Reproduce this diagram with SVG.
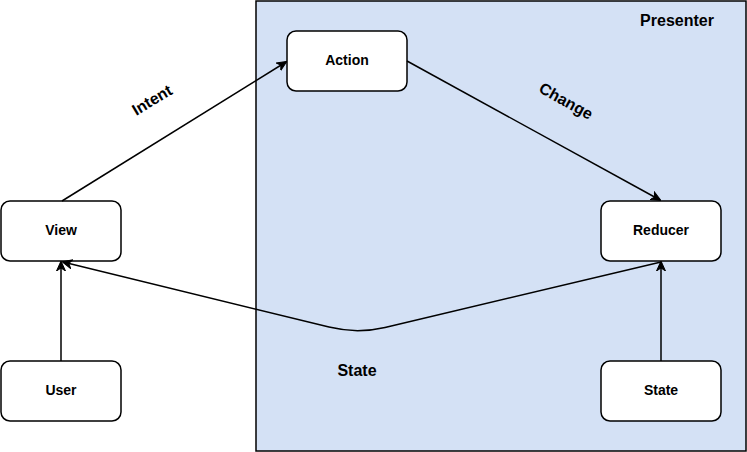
<svg xmlns="http://www.w3.org/2000/svg" width="747" height="452" viewBox="0 0 747 452">
<style>
.node rect{fill:#fff;stroke:#000;stroke-width:1.5}
text{font-family:"Liberation Sans",Arial,Helvetica,sans-serif;font-size:16px;font-weight:bold;fill:#000}
.node text{font-size:14px}
.c{text-anchor:middle;dominant-baseline:central}
.edge{fill:none;stroke:#000;stroke-width:1.5}
</style>
<defs>
<marker id="arr" viewBox="0 0 10 10" refX="9" refY="5" markerWidth="10" markerHeight="10" markerUnits="userSpaceOnUse" orient="auto">
<path d="M0,0.5 L10,5 L0,9.5 L3,5 Z" fill="#000" stroke="#000" stroke-width="1"/>
</marker>
</defs>
<g id="presenter">
<rect x="256" y="1" width="490" height="450" fill="#d4e1f5" stroke="#000" stroke-width="1.5"/>
<text x="677" y="20" class="c">Presenter</text>
</g>
<g id="action" class="node"><rect x="287" y="31" width="120" height="60" rx="9"/><text x="347" y="60" class="c">Action</text></g>
<g id="view" class="node"><rect x="1" y="201" width="120" height="60" rx="9"/><text x="61" y="230" class="c">View</text></g>
<g id="reducer" class="node"><rect x="601" y="201" width="120" height="60" rx="9"/><text x="661" y="230" class="c">Reducer</text></g>
<g id="user" class="node"><rect x="1" y="361" width="120" height="60" rx="9"/><text x="61" y="390" class="c">User</text></g>
<g id="state" class="node"><rect x="601" y="361" width="120" height="60" rx="9"/><text x="661" y="390" class="c">State</text></g>
<g id="connectors">
<path class="edge" d="M62,201 L286,62" marker-end="url(#arr)"/>
<path class="edge" d="M407,61 L660,200" marker-end="url(#arr)"/>
<path class="edge" d="M61,361 L61,262" marker-end="url(#arr)"/>
<path class="edge" d="M661,361 L661,262" marker-end="url(#arr)"/>
<path class="edge" d="M661,262 L385,327.4 Q357,334 329,327.1 L63,262" marker-end="url(#arr)"/>
<text class="c" transform="translate(152,100) rotate(-31)">Intent</text>
<text class="c" transform="translate(566,101) rotate(29)">Change</text>
<text x="357" y="370" class="c">State</text>
</g>
</svg>
